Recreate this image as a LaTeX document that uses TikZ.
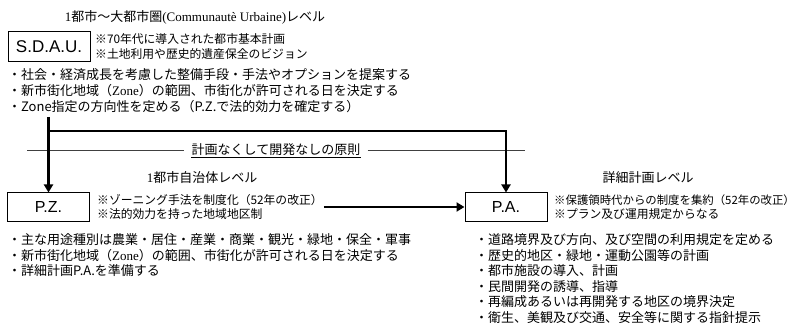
\documentclass[tikz,border=0pt]{standalone}
\usepackage{fontspec}
\newfontfamily\jp{Noto Sans CJK JP}
\newfontfamily\ser{Liberation Serif}
\newfontfamily\arial{Liberation Sans}
\usetikzlibrary{arrows.meta}
\tikzset{
  box/.style={draw, line width=1pt, minimum width=82pt, minimum height=28pt, inner sep=0pt, font=\arial\fontsize{16}{16}\selectfont},
  txt/.style={anchor=west, inner sep=0pt, font=\jp\fontsize{13}{13}\selectfont},
  note/.style={anchor=west, inner sep=0pt, font=\jp\fontsize{11.8}{12}\selectfont},
  lvl/.style={inner sep=0pt, font=\jp\fontsize{13}{13}\selectfont},
  flow/.style={line width=2.2pt, -{Triangle[length=8pt,width=9pt]}},
  ruleline/.style={line width=0.8pt, draw=black!75},
}
\begin{document}
\begin{tikzpicture}[x=1pt,y=-1pt]
\useasboundingbox (0,0) rectangle (800,323);
% top level
\node[lvl] (t1) at (195,17) {{\ser 1}都市～大都市圏{\ser (Communautè Urbaine)}レベル};
\node[box, minimum height=30pt, font=\arial\fontsize{17}{17}\selectfont] (sdau) at (49,47) {S.D.A.U.};
\node[note] (n1) at (95,39) {※70年代に導入された都市基本計画};
\node[note] (n2) at (95,54) {※土地利用や歴史的遺産保全のビジョン};
\node[txt] (b1) at (8,75) {・社会・経済成長を考慮した整備手段・手法やオプションを提案する};
\node[txt] (b2) at (8,91) {・新市街化地域（{\ser Zone}）の範囲、市街化が許可される日を決定する};
\node[txt] (b3) at (8,107) {・Zone指定の方向性を定める（P.Z.で法的効力を確定する）};
% principle line
\node[lvl] (rule) at (276,150) {計画なくして開発なしの原則};
\draw[line width=0.8pt] ([yshift=-1.5pt]rule.south west) -- ([yshift=-1.5pt]rule.south east);
\coordinate (rl) at (27,150);
\coordinate (rr) at (525,150);
\draw[ruleline] (rl) -- ([xshift=-7pt]rule.west);
\draw[ruleline] ([xshift=7pt]rule.east) -- (rr);
% level labels
\node[lvl] (t2) at (202,178) {{\ser 1}都市自治体レベル};
\node[lvl] (t3) at (648,178) {詳細計画レベル};
% boxes
\node[box] (pz) at (48.5,207) {P.Z.};
\node[box] (pa) at (506,207) {P.A.};
% arrows
\coordinate (top) at (48.5,117);
\coordinate (br) at (48.5,131);
\draw[flow] (top) -- (pz.north);
\draw[flow] (br) -| (pa.north);
% PZ notes
\node[note] (pzn1) at (97,200) {※ゾーニング手法を制度化（52年の改正）};
\node[note] (pzn2) at (97,214) {※法的効力を持った地域地区制};
\draw[flow] ([xshift=1pt]pzn1.east |- pa.west) -- (pa.west);
% PA notes
\node[note, font=\jp\fontsize{11.4}{12}\selectfont] (pan1) at (554,200) {※保護領時代からの制度を集約（52年の改正）};
\node[note] (pan2) at (554,214) {※プラン及び運用規定からなる};
% PZ bullets
\node[txt] (pb1) at (8,240) {・主な用途種別は農業・居住・産業・商業・観光・緑地・保全・軍事};
\node[txt] (pb2) at (8,255.5) {・新市街化地域（{\ser Zone}）の範囲、市街化が許可される日を決定する};
\node[txt] (pb3) at (8,271) {・詳細計画P.A.を準備する};
% PA bullets
\node[txt] (ab1) at (475,240) {・道路境界及び方向、及び空間の利用規定を定める};
\node[txt] (ab2) at (475,255.5) {・歴史的地区・緑地・運動公園等の計画};
\node[txt] (ab3) at (475,271) {・都市施設の導入、計画};
\node[txt] (ab4) at (475,286.5) {・民間開発の誘導、指導};
\node[txt] (ab5) at (475,302) {・再編成あるいは再開発する地区の境界決定};
\node[txt] (ab6) at (475,317.5) {・衛生、美観及び交通、安全等に関する指針提示};
\end{tikzpicture}
\end{document}
